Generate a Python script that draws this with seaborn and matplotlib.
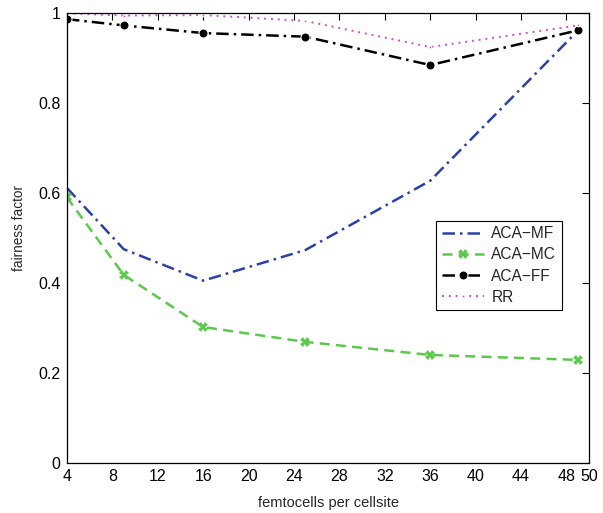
import matplotlib
matplotlib.use('Agg')
import matplotlib.pyplot as plt
import seaborn as sns
from matplotlib.ticker import FuncFormatter

# femtocells per cellsite
femtocells = [4, 9, 16, 25, 36, 49]

# fairness factor per scheme
aca_mf = [0.611, 0.475, 0.405, 0.473, 0.627, 0.960]
aca_mc = [0.590, 0.418, 0.302, 0.269, 0.240, 0.229]
aca_ff = [0.986, 0.972, 0.955, 0.947, 0.884, 0.961]
rr = [0.999, 0.994, 0.995, 0.982, 0.924, 0.972]

x_ticks = [4, 8, 12, 16, 20, 24, 28, 32, 36, 40, 44, 48, 50]
y_ticks = [0, 0.2, 0.4, 0.6, 0.8, 1]

sns.set_style("white")
plt.rcParams['font.family'] = ['Liberation Sans', 'DejaVu Sans']

fig = plt.figure(figsize=(6.03, 5.13), dpi=100)
ax = fig.add_axes([0.111, 0.0975, 0.866, 0.8775])

sns.lineplot(x=femtocells, y=aca_mf, ax=ax, color='#2b40a8', lw=1.8,
             label='ACA\u2212MF').lines[-1].set_dashes((5, 2, 1, 2))
sns.lineplot(x=femtocells, y=aca_mc, ax=ax, color='#5cc84c', lw=1.8,
             marker='X', markersize=7, markeredgewidth=0, label='ACA\u2212MC').lines[-1].set_dashes((4, 2.5))
sns.lineplot(x=femtocells, y=aca_ff, ax=ax, color='black', lw=1.8,
             marker='o', markersize=6.5, label='ACA\u2212FF').lines[-1].set_dashes((5, 2, 1, 2))
sns.lineplot(x=femtocells, y=rr, ax=ax, color='#cc4fcc', lw=1.4,
             marker='.', markersize=4, label='RR').lines[-1].set_dashes((1, 2.5))

ax.set_xlim(4, 50)
ax.set_ylim(0, 1)
ax.set_xticks(x_ticks)
ax.set_yticks(y_ticks)
ax.yaxis.set_major_formatter(FuncFormatter(lambda v, p: '%g' % v))
ax.tick_params(direction='in', length=5, width=0.8, top=True, right=True,
               labelsize=11.5, colors='black', pad=4.5)
for s in ax.spines.values():
    s.set_color('black')
    s.set_linewidth(0.9)

ax.set_xlabel('femtocells per cellsite', fontsize=10.5, labelpad=8.5)
ax.set_ylabel('fairness factor', fontsize=9.8)
ax.yaxis.set_label_coords(-0.079, 0.522)

leg = ax.legend(loc='upper left', bbox_to_anchor=(0.707, 0.538), fontsize=11.2,
                frameon=True, fancybox=False, edgecolor='black', framealpha=1,
                handlelength=2.7, borderpad=0.35, labelspacing=0.4, handletextpad=0.5,
                borderaxespad=0)
leg.get_frame().set_linewidth(0.8)

fig.savefig('out.png', dpi=100)
